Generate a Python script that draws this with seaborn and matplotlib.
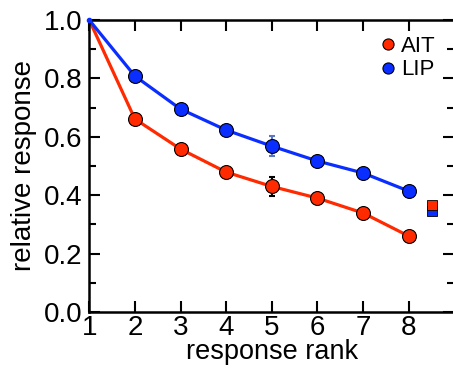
import numpy as np
import pandas as pd
import matplotlib
matplotlib.use("Agg")
import matplotlib.pyplot as plt
from matplotlib.lines import Line2D
from matplotlib.ticker import MultipleLocator
import seaborn as sns

# data
rank = [1, 2, 3, 4, 5, 6, 7, 8]
ait = [1.0, 0.661, 0.558, 0.479, 0.430, 0.390, 0.339, 0.260]
lip = [1.0, 0.808, 0.695, 0.623, 0.568, 0.517, 0.476, 0.414]
ait_err5 = 0.033
lip_err5 = 0.035
ait_extra = 0.368
lip_extra = 0.346
extra_x = 8.5

red = "#ff2a00"
blue = "#0a2eff"

sns.set_style("ticks")
plt.rcParams["font.family"] = ["Liberation Sans", "DejaVu Sans"]
plt.rcParams["text.color"] = "black"
plt.rcParams["axes.labelcolor"] = "black"
plt.rcParams["xtick.color"] = "black"
plt.rcParams["ytick.color"] = "black"
plt.rcParams["axes.edgecolor"] = "black"

df = pd.DataFrame({
    "rank": rank * 2,
    "resp": ait + lip,
    "area": ["AIT"] * len(rank) + ["LIP"] * len(rank),
})

fig = plt.figure(figsize=(4.53, 3.69), dpi=100)
ax = fig.add_axes([0.197, 0.1545, 0.806, 0.7913])

sns.lineplot(data=df, x="rank", y="resp", hue="area",
             palette={"AIT": red, "LIP": blue}, lw=2.3, legend=False,
             ax=ax, zorder=2)

# error bars at rank 5
ax.errorbar([5], [ait[4]], yerr=ait_err5, fmt="none", ecolor="black",
            elinewidth=1.5, capsize=2.5, capthick=1.5, zorder=3)
ax.errorbar([5], [lip[4]], yerr=lip_err5, fmt="none", ecolor="#5a78c0",
            elinewidth=1.5, capsize=2.5, capthick=1.5, zorder=3)

# markers (rank 1 drawn small at the corner)
ax.plot(rank[1:], ait[1:], "o", ms=10, mfc=red, mec="black", mew=0.8, zorder=4)
ax.plot(rank[1:], lip[1:], "o", ms=10, mfc=blue, mec="black", mew=0.8, zorder=4)
ax.plot([1], [1.0], "o", ms=3, mfc=blue, mec=blue, zorder=4, clip_on=False)

# square markers at the side
ax.plot([extra_x], [lip_extra], "s", ms=7, mfc=blue, mec="black", mew=0.6, zorder=4)
ax.plot([extra_x], [ait_extra], "s", ms=7, mfc=red, mec="black", mew=0.6, zorder=5)

ax.set_xlim(1, 9)
ax.set_ylim(0, 1.0)
ax.set_xticks(range(1, 9))
ax.set_yticks(np.arange(0, 1.01, 0.2))
ax.set_yticklabels([f"{v:.1f}" for v in np.arange(0, 1.01, 0.2)])
ax.yaxis.set_minor_locator(MultipleLocator(0.1))

ax.tick_params(axis="both", which="major", direction="in", length=8, width=1.5,
               labelsize=20, top=True, right=True)
ax.tick_params(axis="y", which="major", pad=5)
ax.tick_params(axis="y", which="minor", direction="in", length=5, width=1.5,
               right=True)
ax.tick_params(axis="x", which="major", pad=2)
for s in ax.spines.values():
    s.set_linewidth(1.8)

ax.set_xlabel("response rank", fontsize=19.5, labelpad=-1)
ax.set_ylabel("relative response", fontsize=20, labelpad=5)

handles = [Line2D([], [], ls="none", marker="o", ms=8, mfc=red, mec="black", mew=0.8),
           Line2D([], [], ls="none", marker="o", ms=8, mfc=blue, mec="black", mew=0.8)]
ax.legend(handles, ["AIT", "LIP"], loc="upper right", bbox_to_anchor=(0.985, 0.99),
          frameon=False, fontsize=16, handlelength=0.6, handletextpad=0.3,
          labelspacing=0.1, borderaxespad=0.2)

fig.savefig("out.png", dpi=100)
